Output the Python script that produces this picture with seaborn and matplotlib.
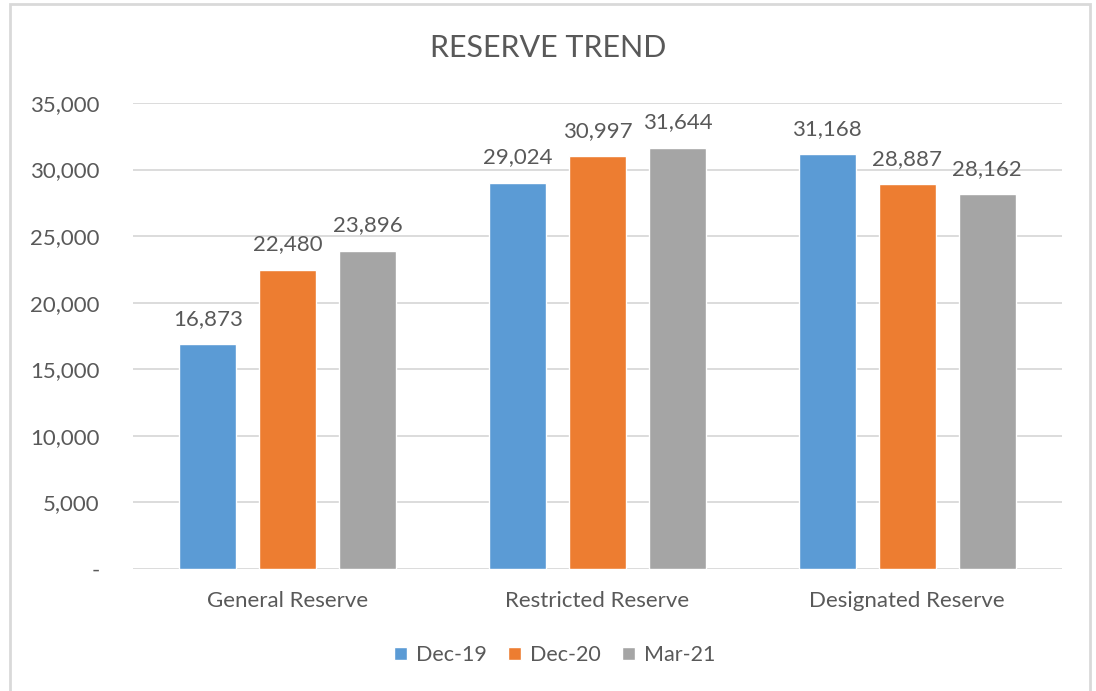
import matplotlib
matplotlib.use("Agg")
import matplotlib.pyplot as plt
import matplotlib.patches as mpatches
import pandas as pd
import seaborn as sns

categories = ["General Reserve", "Restricted Reserve", "Designated Reserve"]
periods = ["Dec-19", "Dec-20", "Mar-21"]
dec19 = [16873, 29024, 31168]
dec20 = [22480, 30997, 28887]
mar21 = [23896, 31644, 28162]

df = pd.DataFrame({
    "category": categories * 3,
    "period": [periods[0]] * 3 + [periods[1]] * 3 + [periods[2]] * 3,
    "value": dec19 + dec20 + mar21,
})

sns.set_style("white")
plt.rcParams["font.family"] = ["Lato", "DejaVu Sans"]
txt = "#595959"
grid = "#D9D9D9"

fig = plt.figure(figsize=(10.96, 6.91), dpi=100)
ax = fig.add_axes([133 / 1096, 1 - 569 / 691, 929 / 1096, 466 / 691])

sns.barplot(data=df, x="category", y="value", hue="period", order=categories,
            hue_order=periods, palette=["#5B9BD5", "#ED7D31", "#A5A5A5"],
            width=0.775, gap=0.29, saturation=1, ax=ax, legend=True)

# data labels
for c in ax.containers:
    ax.bar_label(c, labels=[f"{v:,.0f}" for v in c.datavalues], padding=11,
                 fontsize=16, color=txt)

ax.set_ylim(0, 35000)
ax.set_xlim(-0.5, 2.5)
ticks = list(range(0, 35001, 5000))
ax.set_yticks(ticks)
ax.set_yticklabels(["-" if t == 0 else f"{t:,}" for t in ticks])
ax.yaxis.grid(True, color=grid, linewidth=1.3)
ax.set_axisbelow(True)
for s in ax.spines.values():
    s.set_visible(False)
ax.tick_params(axis="both", length=0, labelsize=16, labelcolor=txt)
ax.tick_params(axis="y", pad=24)
ax.tick_params(axis="x", pad=16)
ax.set_xlabel("")
ax.set_ylabel("")

ax.legend(loc="center", bbox_to_anchor=(0.454, -0.185), ncol=3, frameon=False,
          fontsize=15.5, labelcolor=txt, handlelength=0.6, handleheight=0.6,
          handletextpad=0.4, columnspacing=1.0)

fig.text(0.5, 1 - 48 / 691, "RESERVE TREND", ha="center", va="center",
         fontsize=22, color=txt)

# outer chart border
fig.patches.append(mpatches.Rectangle((10 / 1096, -0.05), 1080 / 1096, 1.05 - 4 / 691,
                                      transform=fig.transFigure, fill=False,
                                      edgecolor=grid, linewidth=2))

fig.savefig("out.png", dpi=100)
